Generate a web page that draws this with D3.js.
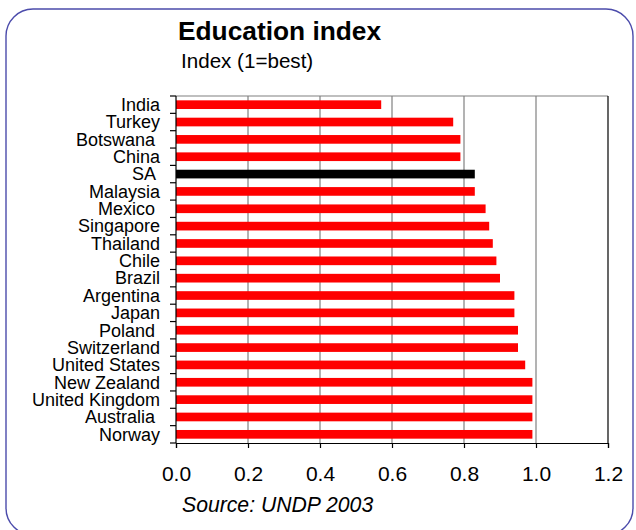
<!DOCTYPE html>
<html>
<head>
<meta charset="utf-8">
<script src="https://cdn.jsdelivr.net/npm/d3@7"></script>
<style>
  html, body { margin: 0; padding: 0; background: #fff; }
  svg { display: block; font-family: "Liberation Sans", Arial, sans-serif; }
  .cat { white-space: pre; }
</style>
</head>
<body>
<svg id="chart" width="636" height="530"></svg>
<script>
// Education index by country (1 = best), top to bottom
const countries = ["India", "Turkey", "Botswana ", "China", "SA ", "Malaysia", "Mexico ",
  "Singapore", "Thailand", "Chile", "Brazil", "Argentina", "Japan", "Poland ",
  "Switzerland", "United States", "New Zealand", "United Kingdom", "Australia ", "Norway"];
const indexValues = [0.57, 0.77, 0.79, 0.79, 0.83, 0.83, 0.86, 0.87, 0.88, 0.89,
  0.90, 0.94, 0.94, 0.95, 0.95, 0.97, 0.99, 0.99, 0.99, 0.99];
const highlighted = ["SA "];
const xTicks = [0, 0.2, 0.4, 0.6, 0.8, 1.0, 1.2];

const rows = countries.map((c, i) => ({ country: c, value: indexValues[i] }));

const svg = d3.select("#chart");

// rounded panel frame (bottom edge runs just past the canvas)
svg.append("rect")
  .attr("x", 6).attr("y", 9).attr("width", 627).attr("height", 526)
  .attr("rx", 27).attr("ry", 27)
  .attr("fill", "#fff").attr("stroke", "#4b4bab").attr("stroke-width", 1.4);

const plot = { left: 176, right: 608, top: 96, bottom: 443 };

const x = d3.scaleLinear().domain([0, 1.2]).range([plot.left, plot.right]);
const y = d3.scaleBand().domain(countries).range([plot.top, plot.bottom])
  .paddingInner(0.5).paddingOuter(0.25);

// vertical gridlines
svg.append("g")
  .selectAll("line")
  .data(xTicks.filter(t => t > 0 && t < 1.2))
  .join("line")
  .attr("x1", d => x(d)).attr("x2", d => x(d))
  .attr("y1", plot.top).attr("y2", plot.bottom)
  .attr("stroke", "#808080").attr("stroke-width", 1.2);

// top and right edges of the plot area
svg.append("line")
  .attr("x1", plot.left).attr("x2", plot.right)
  .attr("y1", plot.top).attr("y2", plot.top)
  .attr("stroke", "#808080").attr("stroke-width", 1.2);
svg.append("line")
  .attr("x1", x(1.2)).attr("x2", x(1.2))
  .attr("y1", plot.top).attr("y2", plot.bottom)
  .attr("stroke", "#000").attr("stroke-width", 1.2);

// bars
svg.append("g")
  .selectAll("rect")
  .data(rows)
  .join("rect")
  .attr("x", x(0))
  .attr("y", d => y(d.country))
  .attr("width", d => x(d.value) - x(0))
  .attr("height", y.bandwidth())
  .attr("fill", d => highlighted.includes(d.country) ? "#000" : "#ff0000");

// bottom axis
const xAxis = d3.axisBottom(x)
  .tickValues(xTicks)
  .tickFormat(d3.format(".1f"))
  .tickSize(5)
  .tickPadding(18);
const gx = svg.append("g")
  .attr("transform", `translate(0,${plot.bottom})`)
  .call(xAxis);
gx.select(".domain").attr("stroke", "#000").attr("stroke-width", 1.2);
gx.selectAll(".tick line").attr("stroke", "#000").attr("stroke-width", 1.2);
gx.selectAll(".tick text")
  .attr("font-size", 21).attr("fill", "#000")
  .attr("font-family", "Liberation Sans, Arial, sans-serif");

// left axis: ticks at row boundaries
const boundaries = d3.range(countries.length + 1).map(i => plot.top + i * (plot.bottom - plot.top) / countries.length);
svg.append("line")
  .attr("x1", plot.left).attr("x2", plot.left)
  .attr("y1", plot.top).attr("y2", plot.bottom)
  .attr("stroke", "#000").attr("stroke-width", 1.2);
svg.append("g")
  .selectAll("line")
  .data(boundaries)
  .join("line")
  .attr("x1", plot.left - 6).attr("x2", plot.left)
  .attr("y1", d => d).attr("y2", d => d)
  .attr("stroke", "#000").attr("stroke-width", 1.2);

// category labels
svg.append("g")
  .selectAll("text")
  .data(countries)
  .join("text")
  .attr("class", "cat")
  .attr("x", 160)
  .attr("y", d => y(d) + y.bandwidth() / 2)
  .attr("dy", "0.35em")
  .attr("text-anchor", "end")
  .attr("font-size", 18)
  .attr("fill", "#000")
  .text(d => d);

// titles
svg.append("text")
  .attr("x", 178).attr("y", 40)
  .attr("font-size", 26.3).attr("font-weight", "bold").attr("fill", "#000")
  .text("Education index");
svg.append("text")
  .attr("x", 181).attr("y", 68)
  .attr("font-size", 20.6).attr("fill", "#000")
  .text("Index (1=best)");

// source note
svg.append("text")
  .attr("x", 182).attr("y", 512)
  .attr("font-size", 21.2).attr("font-style", "italic").attr("fill", "#000")
  .text("Source: UNDP 2003");
</script>
</body>
</html>
